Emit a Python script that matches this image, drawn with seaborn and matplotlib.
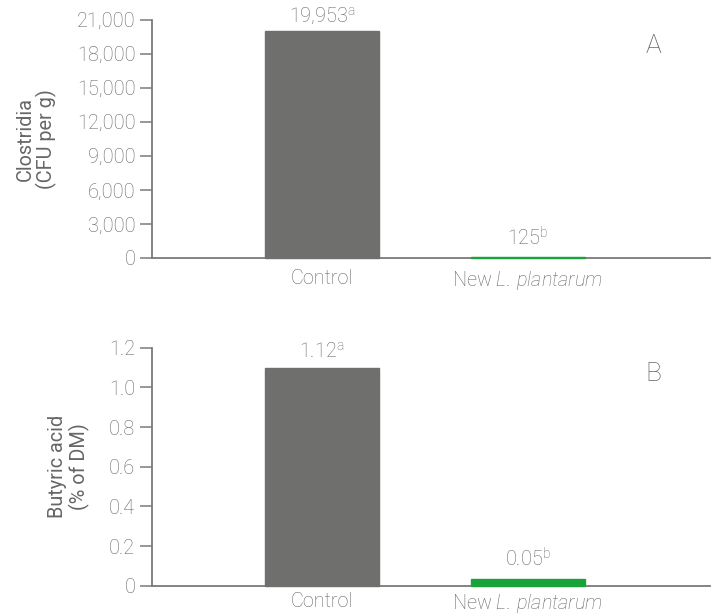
import numpy as np
import pandas as pd
import seaborn as sns
import matplotlib.pyplot as plt
from matplotlib.ticker import FuncFormatter

sns.set_theme(style="white")

plt.rcParams["font.family"] = ["Roboto", "DejaVu Sans"]
plt.rcParams["font.weight"] = "light"
plt.rcParams["mathtext.fontset"] = "custom"
plt.rcParams["mathtext.rm"] = "Roboto:weight=light"
plt.rcParams["mathtext.it"] = "Roboto:style=italic:weight=light"

C_TEXT = "#666666"
C_AXIS = "#7a7a7a"
C_CONTROL = "#6f6f6d"
C_NEW = "#1ba33b"
FS = 14.3

# ---- data ----
treatments = ["Control", "New L. plantarum"]
tick_labels = ["Control", r"New $\mathit{L.\,plantarum}$"]

clostridia = [19953, 125]
clostridia_labels = ["19,953", "125"]
clostridia_letters = ["a", "b"]
clostridia_ticks = [0, 3000, 6000, 9000, 12000, 15000, 18000, 21000]

butyric = [1.10, 0.035]
butyric_labels = ["1.12", "0.05"]
butyric_letters = ["a", "b"]
butyric_ticks = [0, 0.2, 0.4, 0.6, 0.8, 1.0, 1.2]


def draw_panel(ax, values, labels, letters, ticks, ylabel, panel, fmt,
               offsets, xpad):
    df = pd.DataFrame({"Treatment": treatments, "Value": values})
    sns.barplot(
        data=df,
        x="Treatment",
        y="Value",
        hue="Treatment",
        palette=[C_CONTROL, C_NEW],
        width=0.553,
        saturation=1,
        legend=False,
        ax=ax,
    )
    # keep the thin green bar visible above the axis line
    for p in ax.patches:
        p.set_zorder(3)
        p.set_edgecolor(p.get_facecolor())
        p.set_linewidth(1.0)
        p.set_clip_on(False)

    ax.set_xlim(-0.825, 1.883)
    ax.set_ylim(0, ticks[-1])
    ax.set_yticks(ticks)
    ax.yaxis.set_major_formatter(FuncFormatter(fmt))
    ax.set_xticks(range(len(treatments)))
    ax.set_xticklabels(tick_labels)

    for sp in ["top", "right"]:
        ax.spines[sp].set_visible(False)
    for sp in ["left", "bottom"]:
        ax.spines[sp].set_color(C_AXIS)
        ax.spines[sp].set_linewidth(1.3)

    ax.tick_params(axis="y", left=True, length=9, width=1.1, color=C_AXIS,
                   labelsize=FS, labelcolor=C_TEXT, pad=3)
    ax.tick_params(axis="x", bottom=False, length=0, labelsize=FS,
                   labelcolor=C_TEXT, pad=xpad)

    ax.set_xlabel("")
    ax.set_ylabel(ylabel, fontsize=FS, color=C_TEXT, labelpad=14,
                  linespacing=1.1)

    for i, (v, lab, let, off) in enumerate(zip(values, labels, letters, offsets)):
        ax.annotate(
            lab + r"$^{\mathrm{" + let + "}}$",
            xy=(i, v),
            xytext=(0, off),
            textcoords="offset points",
            ha="center",
            va="bottom",
            fontsize=FS,
            color=C_TEXT,
        )

    ax.text(0.899, 0.89, panel, transform=ax.transAxes, ha="center",
            va="center", fontsize=19, color=C_TEXT)


fig = plt.figure(figsize=(7.18, 6.15), dpi=100)
ax_a = fig.add_axes([0.2117, 0.5805, 0.777, 0.3877])
ax_b = fig.add_axes([0.2117, 0.0477, 0.777, 0.3869])

draw_panel(ax_a, clostridia, clostridia_labels, clostridia_letters,
           clostridia_ticks, "Clostridia\n(CFU per g)", "A",
           lambda v, p: f"{int(v):,}", [3, 5], 8)
draw_panel(ax_b, butyric, butyric_labels, butyric_letters,
           butyric_ticks, "Butyric acid\n(% of DM)", "B",
           lambda v, p: "0" if v == 0 else f"{v:.1f}", [4, 6], 4.5)

fig.savefig("out.png", dpi=100)
plt.close(fig)
